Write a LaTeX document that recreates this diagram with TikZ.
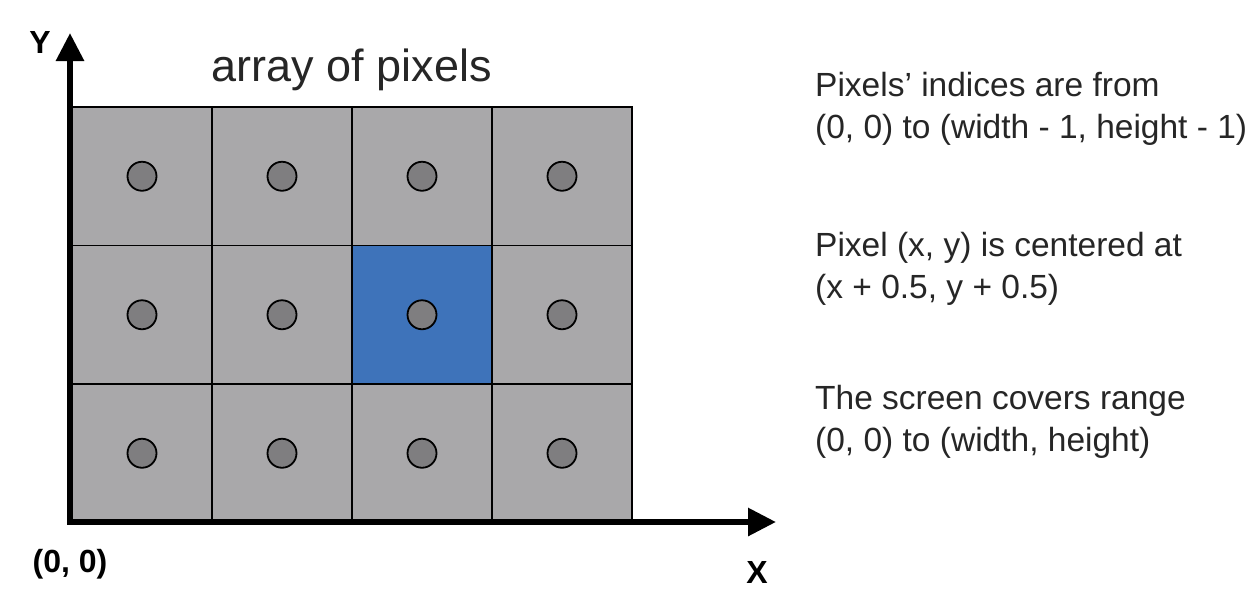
\documentclass[tikz,border=0pt]{standalone}
\usepackage{fontspec}
\setmainfont{Liberation Sans}
\usetikzlibrary{arrows.meta}
\definecolor{cellgray}{HTML}{A9A8AA}
\definecolor{dotgray}{HTML}{7F7E80}
\definecolor{cellblue}{HTML}{3E73BA}
\begin{document}
\begin{tikzpicture}[x=1pt,y=-1pt,
  cell/.style={draw=black, line width=1.8pt, fill=cellgray, minimum width=140pt, minimum height=138.5pt, inner sep=0pt, outer sep=0pt},
  dot/.style={circle, draw=black, line width=1.8pt, fill=dotgray, minimum size=29pt, inner sep=0pt},
  axis/.style={line width=6pt, -{Triangle[length=28pt,width=27pt]}},
  lbl/.style={font=\fontsize{32}{38}\selectfont\bfseries, inner sep=0pt},
  note/.style={font=\fontsize{33.5}{42}\selectfont, align=left, anchor=west, inner sep=0pt, text=black!85}]
\useasboundingbox (0,0) rectangle (1258,590);
\fill[white] (0,0) rectangle (1258,590);
% cells
\foreach \c in {0,1,2,3}{
  \foreach \r in {0,1,2}{
    \node[cell] (c\c\r) at ({72+70+140*\c},{107+69.25+138.5*\r}) {};
  }
}
\node[cell, fill=cellblue] (blue) at (c21) {};
\foreach \c in {0,1,2,3}{
  \foreach \r in {0,1,2}{
    \node[dot] (d\c\r) at (c\c\r) {};
  }
}
% axes
\coordinate (o) at (70,522);
\coordinate (ytip) at (70,33);
\coordinate (xtip) at (776,522);
\draw[axis] ([yshift=3pt]o) -- (ytip);
\draw[axis] ([xshift=-3pt]o) -- (xtip);
\node[lbl] (ylab) at (40,42) {Y};
\node[lbl] (xlab) at (757,572) {X};
\node[lbl] (olab) at (70,564) {(0, 0)};
\node[font=\fontsize{45}{50}\selectfont, inner sep=0pt, text=black!85] (title) at (352,70) {array of pixels};
% notes
\node[note] (n1) at (815,109) {Pixels’ indices are from\\(0, 0) to (width - 1, height - 1)};
\node[note] (n2) at (815,269) {Pixel (x, y) is centered at\\(x + 0.5, y + 0.5)};
\node[note] (n3) at (815,422) {The screen covers range\\(0, 0) to (width, height)};
\end{tikzpicture}
\end{document}
